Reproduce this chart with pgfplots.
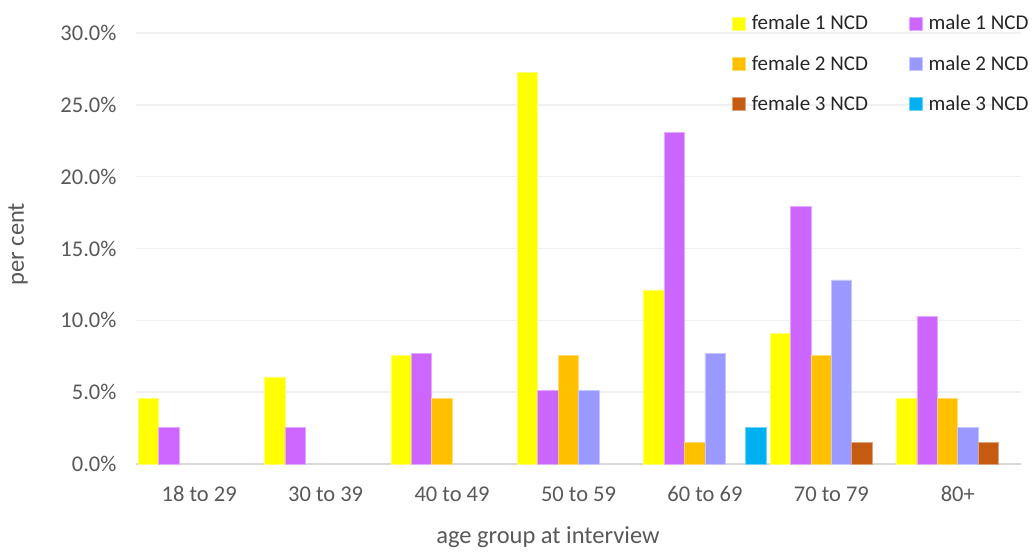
\documentclass[border=0pt]{standalone}
\usepackage{pgfplots}
\pgfplotsset{compat=1.18}
\usepackage{fontspec}
\setmainfont{Carlito}
\definecolor{cFa}{HTML}{FFFF00}
\definecolor{cMa}{HTML}{CC66FF}
\definecolor{cFb}{HTML}{FFC000}
\definecolor{cMb}{HTML}{9999FF}
\definecolor{cFc}{HTML}{C55A11}
\definecolor{cMc}{HTML}{00B0F0}
\definecolor{tickc}{HTML}{595959}
\definecolor{gridc}{HTML}{F0F0F0}
\definecolor{axisc}{HTML}{D9D9D9}
\definecolor{legc}{HTML}{262626}
\pgfplotsset{
  mybar/.style={fill=#1, draw=#1!55!white, line width=0.6pt,
    legend image code/.code={\fill[fill=#1] (0pt,-6.5pt) rectangle (13pt,6.5pt); \path (17pt,0pt);}},
}
\begin{document}
\begin{tikzpicture}
\useasboundingbox (0pt,0pt) rectangle (1035pt,551pt);
\begin{axis}[
  at={(136pt,87pt)}, anchor=south west,
  scale only axis, width=885pt, height=431pt,
  xmin=-0.5, xmax=6.5, ymin=0, ymax=30,
  ybar=0pt, bar width=20.4pt,
  axis x line*=bottom, axis y line*=left,
  x axis line style={draw=axisc, line width=1.5pt},
  y axis line style={draw=none},
  major tick length=0pt,
  xtick={0,1,2,3,4,5,6},
  xticklabels={18 to 29,30 to 39,40 to 49,50 to 59,60 to 69,70 to 79,80+},
  ytick={0,5,10,15,20,25,30},
  yticklabels={0.0\%,5.0\%,10.0\%,15.0\%,20.0\%,25.0\%,30.0\%},
  ymajorgrids, grid style={draw=gridc, line width=1.5pt},
  tick label style={font=\fontsize{22.5}{26}\selectfont, text=tickc},
  xticklabel style={anchor=center, yshift=-30pt},
  yticklabel style={anchor=east, xshift=-16pt},
  ylabel={per cent}, xlabel={age group at interview},
  label style={font=\fontsize{24.5}{29}\selectfont, text=tickc},
  ylabel style={at={(axis description cs:-0.1333,0.51)}, anchor=center},
  xlabel style={at={(axis description cs:0.4655,-0.169)}, anchor=center},
  legend columns=2,
  legend cell align=left,
  legend style={draw=none, fill=none, inner sep=0pt,
    at={(axis description cs:0.6734,1.046)}, anchor=north west,
    font=\fontsize{21}{25}\selectfont, text=legc, row sep=20pt,
    /tikz/every even column/.append style={column sep=39pt}},
]
\addplot[mybar=cFa] coordinates {(0,4.55)(1,6.06)(2,7.58)(3,27.27)(4,12.12)(5,9.09)(6,4.55)};
\addlegendentry{female 1 NCD}
\addplot[mybar=cMa] coordinates {(0,2.56)(1,2.56)(2,7.69)(3,5.13)(4,23.08)(5,17.95)(6,10.26)};
\addlegendentry{male 1 NCD}
\addplot[mybar=cFb] coordinates {(2,4.55)(3,7.58)(4,1.52)(5,7.58)(6,4.55)};
\addlegendentry{female 2 NCD}
\addplot[mybar=cMb] coordinates {(3,5.13)(4,7.69)(5,12.82)(6,2.56)};
\addlegendentry{male 2 NCD}
\addplot[mybar=cFc] coordinates {(5,1.52)(6,1.52)};
\addlegendentry{female 3 NCD}
\addplot[mybar=cMc] coordinates {(4,2.56)};
\addlegendentry{male 3 NCD}
\end{axis}
\end{tikzpicture}
\end{document}
